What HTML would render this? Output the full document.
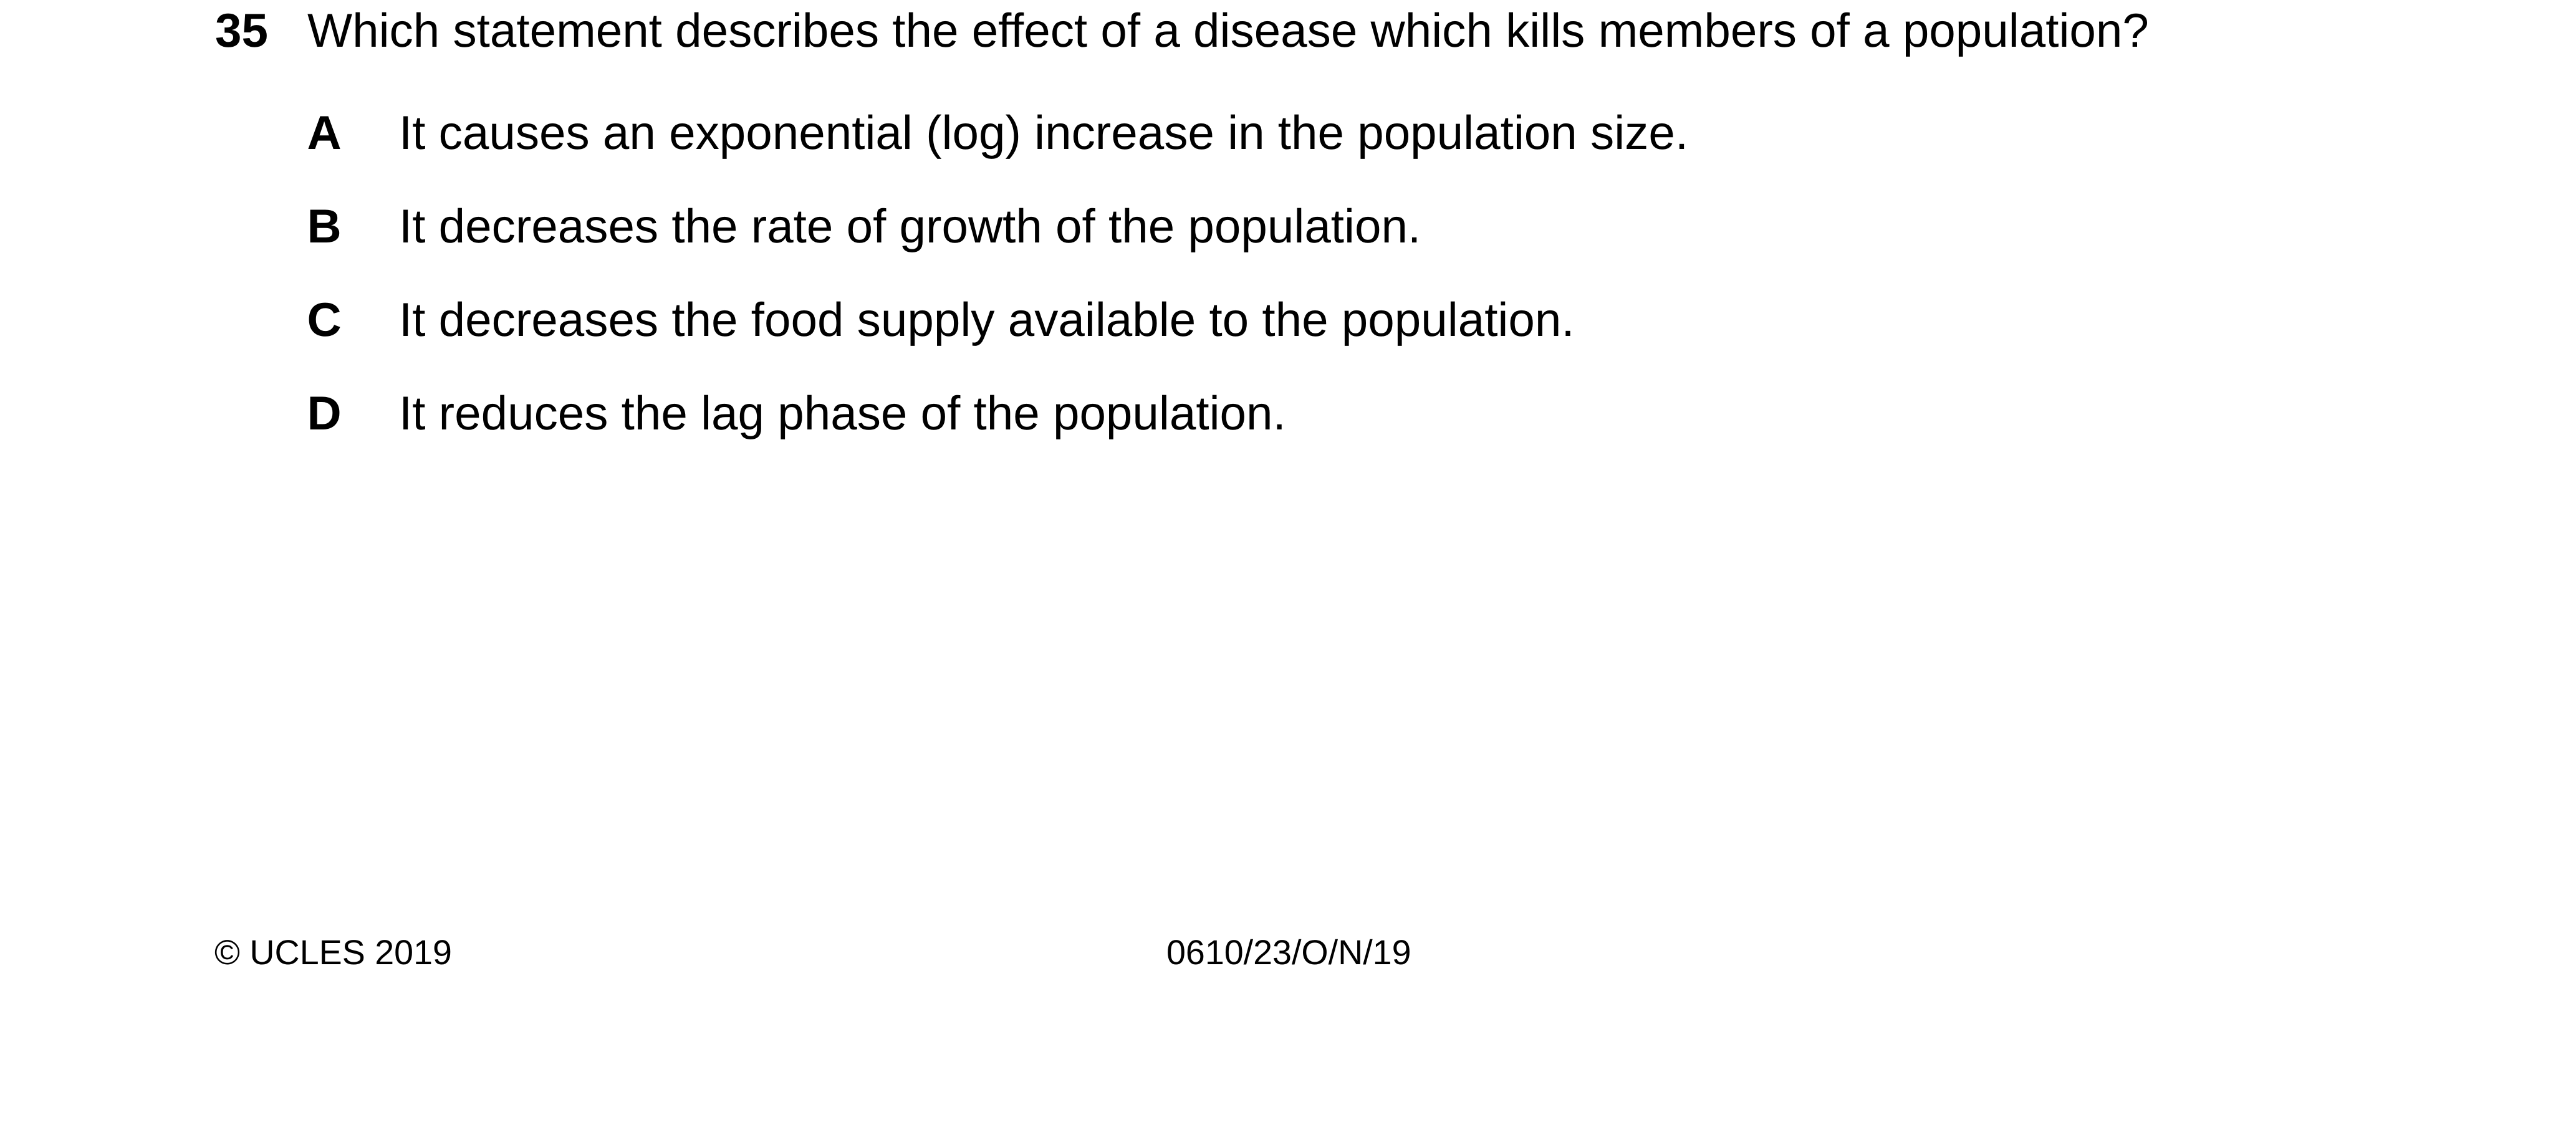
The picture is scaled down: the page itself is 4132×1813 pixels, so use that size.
<!DOCTYPE html>
<html lang="en">
<head>
<meta charset="utf-8">
<title>Question 35</title>
<style>
html,body{margin:0;padding:0;background:#fff;width:4132px;height:1813px;overflow:hidden}
svg{display:block}
text{font-family:"Liberation Sans",Arial,sans-serif;fill:#000;text-rendering:geometricPrecision;white-space:pre}
.q{font-size:76.4px}
.b{font-size:76.4px;font-weight:bold}
.f{font-size:55.6px}
</style>
</head>
<body>
<svg xmlns="http://www.w3.org/2000/svg" width="4132" height="1813" viewBox="0 0 4132 1813">
<rect width="4132" height="1813" fill="#fff"/>
<text class="b" x="345" y="75">35</text>
<text class="q" x="493" y="75">Which statement describes the effect of a disease which kills members of a population?</text>
<text class="b" x="492.5" y="239">A</text>
<text class="q" x="640" y="239">It causes an exponential (log) increase in the population size.</text>
<text class="b" x="492.5" y="389">B</text>
<text class="q" x="640" y="389">It decreases the rate of growth of the population.</text>
<text class="b" x="492.5" y="539">C</text>
<text class="q" x="640" y="539">It decreases the food supply available to the population.</text>
<text class="b" x="492.5" y="689">D</text>
<text class="q" x="640" y="689">It reduces the lag phase of the population.</text>
<text class="f" x="344" y="1547">© UCLES 2019</text>
<text class="f" x="1871" y="1547">0610/23/O/N/19</text>
</svg>
</body>
</html>
